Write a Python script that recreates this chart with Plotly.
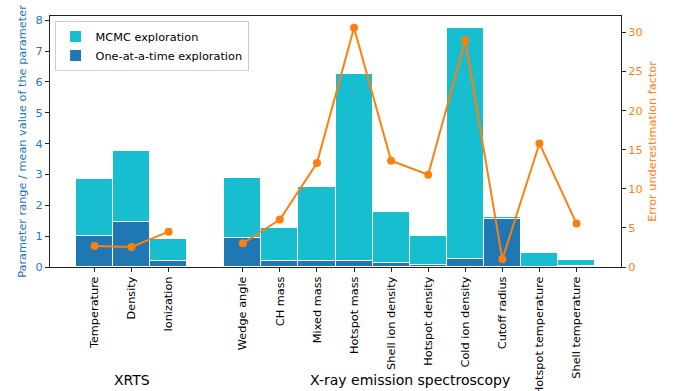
import plotly.graph_objects as go

categories = ["Temperature", "Density", "Ionization",
              "Wedge angle", "CH mass", "Mixed mass", "Hotspot mass",
              "Shell ion density", "Hotspot density", "Cold ion density",
              "Cutoff radius", "Hotspot temperature", "Shell temperature"]
positions = [0, 1, 2, 4, 5, 6, 7, 8, 9, 10, 11, 12, 13]
mcmc = [2.85, 3.75, 0.92, 2.9, 1.27, 2.6, 6.27, 1.79, 1.0, 7.74, 1.62, 0.44, 0.23]
oat = [1.0, 1.45, 0.2, 0.93, 0.2, 0.2, 0.19, 0.12, 0.07, 0.26, 1.56, 0.01, 0.03]
underest = [2.7, 2.56, 4.52, 3.03, 6.06, 13.3, 30.6, 13.6, 11.8, 29.0, 0.98, 15.8, 5.55]
groups = ["XRTS", "X-ray emission spectroscopy"]
group_centers = [1, 8.5]

BLUE = "#1f77b4"
CYAN = "#17becf"
ORANGE = "#ff7f0e"
FONT = "DejaVu Sans"
FS = 11.3

fig = go.Figure()
fig.add_trace(go.Bar(x=positions, y=mcmc, width=1, name="MCMC exploration",
                     marker=dict(color=CYAN, line=dict(color="white", width=1))))
fig.add_trace(go.Bar(x=positions, y=oat, width=1, name="One-at-a-time exploration",
                     marker=dict(color=BLUE, line=dict(color="white", width=1))))
# line with a break between the two groups
lx = positions[:3] + [None] + positions[3:]
ly = underest[:3] + [None] + underest[3:]
fig.add_trace(go.Scatter(x=lx, y=ly, yaxis="y2", mode="lines+markers",
                         line=dict(color=ORANGE, width=2), marker=dict(color=ORANGE, size=8),
                         showlegend=False, connectgaps=False))

for g, c in zip(groups, group_centers):
    fig.add_annotation(x=c, y=0, xref="x", yref="paper", text=g, showarrow=False,
                       yanchor="middle", yshift=-113,
                       font=dict(family=FONT, size=14, color="black"))

fig.update_layout(
    width=676, height=391,
    margin=dict(l=50, r=55, t=16, b=124),
    barmode="overlay",
    plot_bgcolor="white", paper_bgcolor="white",
    font=dict(family=FONT, size=FS, color="black"),
    bargap=0,
    legend=dict(x=0.008, y=0.98, xanchor="left", yanchor="top",
                bgcolor="rgba(255,255,255,0.8)", bordercolor="#cccccc", borderwidth=1,
                font=dict(size=FS, color="black"), traceorder="normal",
                tracegroupgap=0, itemwidth=30),
    xaxis=dict(range=[-1.2, 14.2], tickvals=positions, ticktext=categories,
               tickangle=-90, ticks="outside", ticklen=4, tickcolor="#222",
               showline=True, linecolor="#222", linewidth=1, mirror=True,
               showgrid=False, zeroline=False, automargin=False,
               tickfont=dict(size=FS, color="black")),
    yaxis=dict(range=[0, 8.14], tickvals=[0, 1, 2, 3, 4, 5, 6, 7, 8],
               ticks="outside", ticklen=4, tickcolor="#222",
               showline=True, linecolor="#222", linewidth=1,
               showgrid=False, zeroline=False, automargin=False,
               tickfont=dict(size=FS, color=BLUE),
               title=dict(text="Parameter range / mean value of the parameter",
                          font=dict(size=FS, color=BLUE), standoff=6)),
    yaxis2=dict(range=[0, 32.1], tickvals=[0, 5, 10, 15, 20, 25, 30],
                overlaying="y", side="right",
                ticks="outside", ticklen=4, tickcolor="#222",
                showline=True, linecolor="#222", linewidth=1,
                showgrid=False, zeroline=False, automargin=False,
                tickfont=dict(size=FS, color=ORANGE),
                title=dict(text="Error underestimation factor",
                           font=dict(size=FS, color=ORANGE), standoff=6)),
)

fig.write_html("out.html")
